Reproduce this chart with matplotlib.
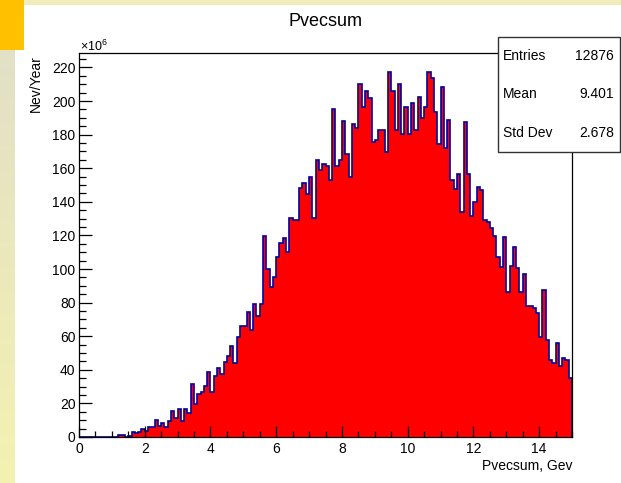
import numpy as np
import matplotlib
matplotlib.use("Agg")
import matplotlib.pyplot as plt
from matplotlib.patches import Rectangle
from matplotlib.colors import LinearSegmentedColormap
from matplotlib.ticker import MultipleLocator

plt.rcParams["font.family"] = ["Liberation Sans", "DejaVu Sans"]
plt.rcParams["mathtext.fontset"] = "custom"
plt.rcParams["mathtext.rm"] = "Liberation Sans"
plt.rcParams["mathtext.it"] = "Liberation Sans:italic"

# ---- histogram data: 150 bins of 0.1 GeV between 0 and 15 (units of 1e6 / year)
x_low, x_high, n_bins = 0.0, 15.0, 150
counts = [
    0, 0, 0, 0, 0, 0, 0, 0, 0, 0,
    0, 0, 1.0, 1.0, 0, 0.8, 3.1, 2.2, 3.1, 4.6,
    3.5, 5.7, 5.7, 10.4, 6.5, 8.1, 5.7, 9.5, 15.5, 11.6,
    16.6, 9.5, 16.6, 14.2, 31.5, 19.7, 25.4, 26.8, 30.3, 38.8,
    26.6, 36.4, 41.0, 37.5, 44.8, 48.0, 54.4, 43.9, 59.4, 66.0,
    66.0, 74.2, 63.5, 79.2, 72.2, 79.2, 119.8, 100.0, 89.1, 95.0,
    106.9, 115.6, 118.2, 109.9, 130.2, 129.2, 129.2, 148.4, 151.0, 144.8,
    155.0, 130.2, 164.6, 159.0, 162.3, 161.1, 153.0, 195.0, 161.3, 164.9,
    187.9, 168.4, 155.0, 186.4, 184.2, 209.9, 196.7, 206.2, 201.6, 175.8,
    176.8, 182.7, 182.7, 169.8, 217.1, 206.2, 182.7, 209.9, 180.3, 196.3,
    180.3, 198.6, 182.7, 202.6, 190.1, 196.7, 217.1, 213.5, 193.7, 174.4,
    208.5, 171.9, 188.6, 153.0, 147.4, 156.4, 134.2, 187.7, 156.4, 131.8,
    140.1, 148.7, 147.0, 129.2, 127.8, 124.2, 119.7, 107.3, 101.0, 119.3,
    86.5, 102.0, 113.3, 100.8, 86.5, 97.0, 78.0, 78.0, 76.6, 74.0,
    59.7, 87.5, 57.7, 45.8, 43.9, 55.7, 42.5, 46.9, 45.8, 34.9,
]
edges = np.linspace(x_low, x_high, n_bins + 1)

# statistics box
stat_names = ["Entries", "Mean", "Std Dev"]
stat_values = ["12876", "9.401", "2.678"]

title_text = "Pvecsum"
x_title = "Pvecsum, Gev"
y_title = "Nev/Year"
y_max = 228.4

W, H = 621, 483
fig = plt.figure(figsize=(W / 100, H / 100), dpi=100)
fig.patch.set_facecolor("white")

# ---- slide decoration behind the canvas
bg = fig.add_axes([0, 0, 1, 1], zorder=0)
bg.set_xlim(0, W)
bg.set_ylim(H, 0)
bg.axis("off")
strip_cmap = LinearSegmentedColormap.from_list("strip", ["#E2E0C6", "#F4F2B0"])
bg.imshow(np.linspace(0, 1, 256)[:, None], extent=(0, 15, H, 50),
          cmap=strip_cmap, aspect="auto", interpolation="bilinear")
bg.add_patch(Rectangle((24, 0), W - 24, 5, color="#F0EDBA", lw=0))
bg.add_patch(Rectangle((0, 0), 24, 50, color="#FFC000", lw=0))
bg.set_xlim(0, W)
bg.set_ylim(H, 0)

# ---- histogram frame
ax_l, ax_r, ax_t, ax_b = 79, 572, 53.3, 437
ax = fig.add_axes([ax_l / W, (H - ax_b) / H, (ax_r - ax_l) / W, (ax_b - ax_t) / H], zorder=1)
ax.patch.set_alpha(0)
ax.stairs(counts, edges, fill=True, color="#FF0000", lw=0)
ax.stairs(counts, edges, color="#000099", lw=1.2)
ax.set_xlim(x_low, x_high)
ax.set_ylim(0, y_max)
for s in ax.spines.values():
    s.set_linewidth(0.9)
    s.set_color("black")

ax.xaxis.set_major_locator(MultipleLocator(2))
ax.xaxis.set_minor_locator(MultipleLocator(0.5))
ax.yaxis.set_major_locator(MultipleLocator(20))
ax.yaxis.set_minor_locator(MultipleLocator(5))
ax.tick_params(which="both", direction="in", top=False, right=False,
               labelsize=10, width=0.9, color="black")
ax.xaxis.set_tick_params(which="major", length=8, pad=3.5)
ax.xaxis.set_tick_params(which="minor", length=4)
ax.yaxis.set_tick_params(which="major", length=9.5, pad=2.5)
ax.yaxis.set_tick_params(which="minor", length=4.8)

# ---- texts and stats box on top
ov = fig.add_axes([0, 0, 1, 1], zorder=3)
ov.set_xlim(0, W)
ov.set_ylim(H, 0)
ov.axis("off")
ov.patch.set_alpha(0)

ov.text(325, 21, title_text, ha="center", va="center", fontsize=13)
ov.text(36, 55, y_title, rotation=90, ha="center", va="top", fontsize=10)
ov.text(ax_r, 466, x_title, ha="right", va="center", fontsize=10)
ov.text(80, 51, r"$\times10^{6}$", ha="left", va="baseline", fontsize=9)

ov.add_patch(Rectangle((497.7, 36.7), 122.6, 115, facecolor="white",
                       edgecolor="#333333", lw=1.0))
for k, (name, val) in enumerate(zip(stat_names, stat_values)):
    yy = 56 + k * 38.5
    ov.text(503, yy, name, ha="left", va="center", fontsize=10)
    ov.text(614, yy, val, ha="right", va="center", fontsize=10)

fig.savefig("out.png", dpi=100)
